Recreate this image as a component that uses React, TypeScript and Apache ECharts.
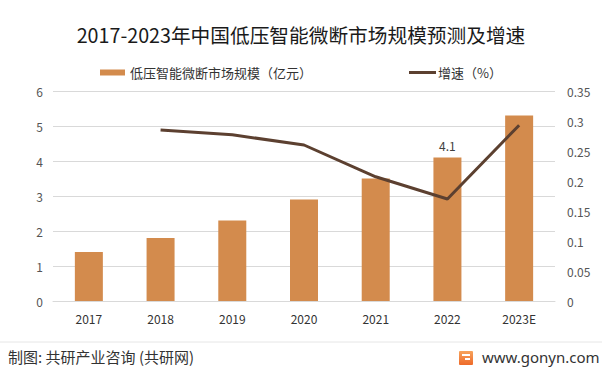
import React, { useEffect, useRef } from "react";
import * as echarts from "echarts";

const categories = ["2017", "2018", "2019", "2020", "2021", "2022", "2023E"];
const marketSize = [1.4, 1.8, 2.3, 2.9, 3.5, 4.1, 5.3];
const growth = [null, 0.285, 0.277, 0.26, 0.207, 0.17, 0.293];
const leftTicks = [0, 6, 1];
const rightTicks = [0, 0.35, 0.05];

export default function App() {
  const ref = useRef<HTMLDivElement>(null);
  useEffect(() => {
    document.body.style.margin = "0";
    const chart = echarts.init(ref.current!, undefined, { renderer: "svg" });
    const font = "'Microsoft YaHei', 'Noto Sans CJK SC', sans-serif";
    const barName = "低压智能微断市场规模（亿元）";
    const lineName = "增速（%）";
    chart.setOption({
      animation: false,
      backgroundColor: "#ffffff",
      textStyle: { fontFamily: font },
      title: {
        text: "2017-2023年中国低压智能微断市场规模预测及增速",
        left: "center",
        top: 20,
        textStyle: { fontSize: 19.7, fontWeight: "normal", color: "#1a1a1a", fontFamily: font },
      },
      legend: [
        {
          top: 66,
          left: 100,
          padding: 0,
          itemWidth: 25,
          itemHeight: 6,
          textStyle: { fontSize: 13, color: "#333", fontFamily: font },
          data: [{ name: barName, icon: "rect" }],
        },
        {
          top: 66,
          left: 409,
          padding: 0,
          itemWidth: 27,
          itemHeight: 3,
          textStyle: { fontSize: 13, color: "#333", fontFamily: font, padding: [0, 0, 0, -3] },
          data: [{ name: lineName, icon: "rect", itemStyle: { color: "#5c4030" } }],
        },
      ],
      grid: { left: 53, right: 47, top: 91, bottom: 72 },
      xAxis: {
        type: "category",
        data: categories,
        axisLine: { lineStyle: { color: "#d9d9d9" } },
        axisTick: { show: false },
        axisLabel: { color: "#333", fontSize: 12, margin: 11 },
      },
      yAxis: [
        {
          type: "value",
          min: leftTicks[0],
          max: leftTicks[1],
          interval: leftTicks[2],
          axisLine: { show: false },
          axisTick: { show: false },
          axisLabel: { color: "#555", fontSize: 12, margin: 10 },
          splitLine: { lineStyle: { color: "#d9d9d9" } },
        },
        {
          type: "value",
          min: rightTicks[0],
          max: rightTicks[1],
          interval: rightTicks[2],
          axisLine: { show: false },
          axisTick: { show: false },
          axisLabel: { color: "#555", fontSize: 12, margin: 12 },
          splitLine: { show: false },
        },
      ],
      series: [
        {
          name: barName,
          type: "bar",
          data: marketSize.map((v, i) =>
            i === 5
              ? { value: v, label: { show: true, position: "top", color: "#404040", fontSize: 12, distance: 6 } }
              : v
          ),
          barWidth: 28,
          itemStyle: { color: "#d38b4d" },
        },
        {
          name: lineName,
          type: "line",
          yAxisIndex: 1,
          data: growth,
          symbol: "none",
          lineStyle: { color: "#5c4030", width: 3 },
          itemStyle: { color: "#5c4030" },
        },
      ],
      graphic: [
        { type: "line", shape: { x1: 0, y1: 342, x2: 602, y2: 342 }, style: { stroke: "#e6e6e6", lineWidth: 1 } },
        {
          type: "text",
          left: 8,
          top: 349,
          style: { text: "制图: 共研产业咨询 (共研网)", fill: "#333", fontSize: 15, fontFamily: font },
        },
        {
          type: "rect",
          shape: { x: 459, y: 351, width: 14, height: 14, r: 1 },
          style: {
            fill: new echarts.graphic.LinearGradient(0, 0, 0, 1, [
              { offset: 0, color: "#f7a35c" },
              { offset: 1, color: "#ee6a2a" },
            ]),
          },
        },
        { type: "rect", shape: { x: 462, y: 354, width: 8, height: 2 }, style: { fill: "#fff" } },
        { type: "rect", shape: { x: 465, y: 358, width: 5, height: 2 }, style: { fill: "#fff" } },
        {
          type: "text",
          left: 482,
          top: 349,
          style: { text: "www.gonyn.com", fill: "#333", fontSize: 15, fontFamily: "'Noto Sans', sans-serif" },
        },
      ],
    });
    return () => chart.dispose();
  }, []);
  return <div ref={ref} style={{ width: 602, height: 373 }} />;
}
